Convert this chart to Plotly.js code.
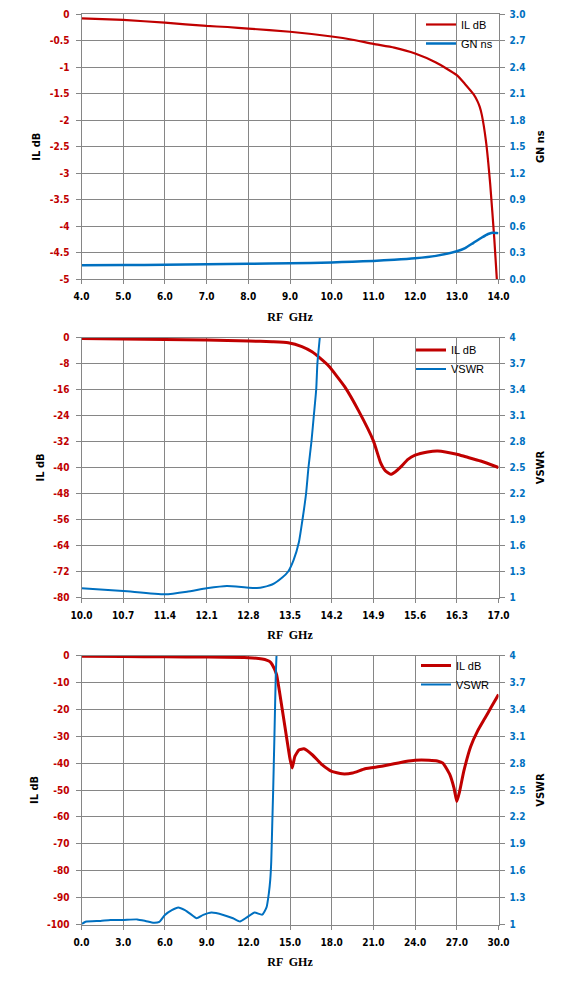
<!DOCTYPE html>
<html>
<head>
<meta charset="utf-8">
<script src="https://cdn.plot.ly/plotly-3.0.1.min.js"></script>
<style>html,body{margin:0;padding:0;background:#fff;}#chart{width:568px;height:986px;}</style>
</head>
<body>
<div id="chart"></div>
<script>
// ---------- Chart 1: IL dB / GN ns vs RF GHz (4-14) ----------
const c1FreqIL = [4.0, 5.0, 6.0, 7.0, 7.5, 8.0, 9.0, 10.0, 10.5, 11.0, 11.5, 12.0, 12.5, 13.0, 13.2, 13.4, 13.5, 13.55, 13.6, 13.7, 13.8, 13.9, 13.96];
const c1IL     = [-0.076, -0.107, -0.158, -0.22, -0.24, -0.27, -0.33, -0.42, -0.48, -0.56, -0.63, -0.74, -0.91, -1.15, -1.32, -1.51, -1.65, -1.75, -1.9, -2.4, -3.2, -4.25, -5.0];
const c1FreqGN = [4.0, 5.0, 6.0, 7.0, 8.0, 9.0, 10.0, 10.5, 11.0, 11.5, 12.0, 12.5, 13.0, 13.2, 13.4, 13.6, 13.75, 13.85, 13.95, 14.0];
const c1GN     = [0.155, 0.158, 0.162, 0.166, 0.172, 0.178, 0.188, 0.195, 0.205, 0.218, 0.235, 0.262, 0.314, 0.35, 0.41, 0.47, 0.51, 0.525, 0.522, 0.52];

// ---------- Chart 2: IL dB / VSWR vs RF GHz (10-17) ----------
const c2FreqIL = [10.0, 10.7, 11.4, 12.1, 12.81, 13.2, 13.47, 13.7, 13.87, 14.0, 14.15, 14.42, 14.65, 14.9, 15.02, 15.1, 15.19, 15.27, 15.36, 15.48, 15.6, 15.81, 15.98, 16.3, 16.45, 16.7, 17.0];
const c2IL     = [-0.3, -0.5, -0.6, -0.8, -1.1, -1.3, -1.6, -2.8, -4.4, -6.3, -8.8, -15.2, -22.5, -31.8, -38.5, -41.0, -42.1, -41.3, -39.8, -37.5, -36.2, -35.2, -34.9, -35.9, -36.7, -38.0, -40.0];
const c2FreqVS = [10.0, 10.7, 11.4, 11.77, 12.1, 12.44, 12.81, 13.0, 13.2, 13.37, 13.47, 13.56, 13.65, 13.71, 13.77, 13.81, 13.86, 13.9, 13.94, 13.96, 14.0, 14.05];
const c2VSWR   = [1.106, 1.075, 1.037, 1.067, 1.106, 1.133, 1.113, 1.112, 1.15, 1.23, 1.30, 1.43, 1.64, 1.90, 2.2, 2.5, 2.8, 3.1, 3.4, 3.7, 4.0, 4.4];

// ---------- Chart 3: IL dB / VSWR vs RF GHz (0-30) ----------
const c3FreqIL = [0, 3, 6, 9, 12, 13.0, 13.36, 13.55, 13.72, 14.03, 14.44, 14.8, 15.0, 15.16, 15.35, 15.64, 16.0, 16.6, 17.3, 18.0, 18.75, 19.5, 20.4, 21.6, 23.3, 24.0, 25.0, 25.6, 26.0, 26.5, 26.8, 27.0, 27.2, 27.5, 28.0, 28.5, 29.0, 29.5, 30.0];
const c3IL     = [-0.3, -0.4, -0.5, -0.6, -0.8, -1.3, -1.8, -2.3, -3.4, -7.0, -20.0, -32.0, -38.5, -41.8, -37.5, -35.1, -34.7, -36.9, -40.6, -43.1, -44.0, -43.7, -42.1, -41.2, -39.4, -38.9, -38.9, -39.2, -40.0, -44.3, -49.3, -54.3, -50.6, -43.1, -33.8, -28.0, -23.5, -19.0, -14.5];
const c3FreqVS = [0.0, 0.29, 1.37, 2.09, 2.93, 4.0, 4.6, 5.2, 5.6, 6.0, 6.5, 6.96, 7.44, 7.9, 8.28, 8.76, 9.35, 10.2, 10.9, 11.4, 11.9, 12.45, 13.0, 13.31, 13.48, 13.58, 13.65, 13.72, 13.79, 13.88, 13.98, 14.03, 14.08];
const c3VSWR   = [1.0, 1.03, 1.04, 1.05, 1.05, 1.057, 1.04, 1.02, 1.03, 1.107, 1.16, 1.19, 1.16, 1.11, 1.07, 1.107, 1.133, 1.107, 1.07, 1.034, 1.08, 1.133, 1.11, 1.19, 1.35, 1.5, 1.7, 2.1, 2.5, 3.1, 3.8, 4.0, 4.3];

// ---------- Tick labels ----------
const x1Ticks = [4,5,6,7,8,9,10,11,12,13,14];
const x1Text  = ['4.0','5.0','6.0','7.0','8.0','9.0','10.0','11.0','12.0','13.0','14.0'];
const y1Ticks = [0,-0.5,-1,-1.5,-2,-2.5,-3,-3.5,-4,-4.5,-5];
const y1Text  = ['0','-0.5','-1','-1.5','-2','-2.5','-3','-3.5','-4','-4.5','-5'];
const y2Ticks = [0,0.3,0.6,0.9,1.2,1.5,1.8,2.1,2.4,2.7,3.0];
const y2Text  = ['0.0','0.3','0.6','0.9','1.2','1.5','1.8','2.1','2.4','2.7','3.0'];
const x2Ticks = [10.0,10.7,11.4,12.1,12.8,13.5,14.2,14.9,15.6,16.3,17.0];
const x2Text  = ['10.0','10.7','11.4','12.1','12.8','13.5','14.2','14.9','15.6','16.3','17.0'];
const y3Ticks = [0,-8,-16,-24,-32,-40,-48,-56,-64,-72,-80];
const y3Text  = ['0','-8','-16','-24','-32','-40','-48','-56','-64','-72','-80'];
const vsTicks = [1,1.3,1.6,1.9,2.2,2.5,2.8,3.1,3.4,3.7,4];
const vsText  = ['1','1.3','1.6','1.9','2.2','2.5','2.8','3.1','3.4','3.7','4'];
const x3Ticks = [0,3,6,9,12,15,18,21,24,27,30];
const x3Text  = ['0.0','3.0','6.0','9.0','12.0','15.0','18.0','21.0','24.0','27.0','30.0'];
const y5Ticks = [0,-10,-20,-30,-40,-50,-60,-70,-80,-90,-100];
const y5Text  = ['0','-10','-20','-30','-40','-50','-60','-70','-80','-90','-100'];

const RED = '#C00000', BLUE = '#0070C0', GRID = '#868686';
const TICKFONT = 'DejaVu Sans Condensed, DejaVu Sans, sans-serif';
const W = 568, H = 986;
const xd = [81.5/W, 498.5/W];
function yd(top, bottom){ return [1 - bottom/H, 1 - top/H]; }

function xAxis(ticks, text, range, anchor){
  return {domain: xd, anchor: anchor, range: range, tickmode:'array', tickvals: ticks, ticktext: text,
    showgrid: true, gridcolor: GRID, gridwidth: 1, showline: true, linecolor: GRID, linewidth: 1, mirror: true,
    ticks: 'outside', ticklen: 4, tickcolor: GRID, zeroline: false, ticklabelstandoff: 4,
    tickfont: {family: TICKFONT, size: 10, color: '#000', weight: 'bold'},
    title: {text: 'RF  GHz', font: {family: 'Liberation Serif, serif', size: 12, color: '#000', weight: 'bold'}, standoff: 11}};
}
function yLeft(ticks, text, range, dom, anchor, title){
  return {domain: dom, anchor: anchor, range: range, tickmode:'array', tickvals: ticks, ticktext: text,
    showgrid: true, gridcolor: GRID, gridwidth: 1, showline: true, linecolor: GRID, linewidth: 1, mirror: true,
    ticks: 'outside', ticklen: 5, tickcolor: GRID, zeroline: false, ticklabelstandoff: 4,
    tickfont: {family: TICKFONT, size: 10, color: RED, weight: 'bold'},
    title: {text: title, font: {family: TICKFONT, size: 11, color: '#000', weight: 'bold'}, standoff: 6}};
}
function yRight(ticks, text, range, over, anchor, title){
  return {overlaying: over, side: 'right', anchor: anchor, range: range, tickmode:'array', tickvals: ticks, ticktext: text,
    showgrid: false, showline: true, linecolor: GRID, linewidth: 1,
    ticks: 'outside', ticklen: 5, tickcolor: GRID, zeroline: false, ticklabelstandoff: 3,
    tickfont: {family: TICKFONT, size: 10, color: BLUE, weight: 'bold'},
    title: {text: title, font: {family: TICKFONT, size: 11, color: '#000', weight: 'bold'}, standoff: 11}};
}

const traces = [
  {x: c1FreqIL, y: c1IL, name: 'IL dB', xaxis: 'x', yaxis: 'y', mode: 'lines', line: {color: RED, width: 2.2, shape: 'spline', smoothing: 0.5}, legend: 'legend'},
  {x: c1FreqGN, y: c1GN, name: 'GN ns', xaxis: 'x', yaxis: 'y2', mode: 'lines', line: {color: BLUE, width: 2.5, shape: 'spline', smoothing: 0.5}, legend: 'legend'},
  {x: c2FreqIL, y: c2IL, name: 'IL dB', xaxis: 'x2', yaxis: 'y3', mode: 'lines', line: {color: RED, width: 3, shape: 'spline', smoothing: 0.5}, legend: 'legend2'},
  {x: c2FreqVS, y: c2VSWR, name: 'VSWR', xaxis: 'x2', yaxis: 'y4', mode: 'lines', line: {color: BLUE, width: 2, shape: 'spline', smoothing: 0.5}, legend: 'legend2'},
  {x: c3FreqIL, y: c3IL, name: 'IL dB', xaxis: 'x3', yaxis: 'y5', mode: 'lines', line: {color: RED, width: 3, shape: 'spline', smoothing: 0.4}, legend: 'legend3'},
  {x: c3FreqVS, y: c3VSWR, name: 'VSWR', xaxis: 'x3', yaxis: 'y6', mode: 'lines', line: {color: BLUE, width: 2, shape: 'spline', smoothing: 0.5}, legend: 'legend3'}
];

const legFont = {family: 'Liberation Sans, Arial, sans-serif', size: 11, color: '#000'};
function leg(xpx, ypx){
  return {x: xpx/W, y: 1 - ypx/H, xanchor: 'left', yanchor: 'top', bgcolor: 'rgba(0,0,0,0)', borderwidth: 0, font: legFont, itemwidth: 30, tracegroupgap: 0};
}
function box(x0, x1, y0, y1){
  return {type: 'rect', xref: 'paper', yref: 'paper', x0: x0/W, x1: x1/W, y0: 1 - y1/H, y1: 1 - y0/H,
    fillcolor: '#fff', line: {width: 0}, layer: 'between'};
}

const layout = {
  width: W, height: H, margin: {l: 0, r: 0, t: 0, b: 0},
  paper_bgcolor: '#fff', plot_bgcolor: '#fff', showlegend: true,
  xaxis:  xAxis(x1Ticks, x1Text, [4, 14], 'y'),
  yaxis:  yLeft(y1Ticks, y1Text, [-5, 0], yd(14.3, 279), 'x', 'IL dB'),
  yaxis2: yRight(y2Ticks, y2Text, [0, 3], 'y', 'x', 'GN ns'),
  xaxis2: xAxis(x2Ticks, x2Text, [10, 17], 'y3'),
  yaxis3: yLeft(y3Ticks, y3Text, [-80, 0], yd(337.5, 597.5), 'x2', 'IL dB'),
  yaxis4: yRight(vsTicks, vsText, [1, 4], 'y3', 'x2', 'VSWR'),
  xaxis3: xAxis(x3Ticks, x3Text, [0, 30], 'y5'),
  yaxis5: yLeft(y5Ticks, y5Text, [-100, 0], yd(655.5, 924.5), 'x3', 'IL dB'),
  yaxis6: yRight(vsTicks, vsText, [1, 4], 'y5', 'x3', 'VSWR'),
  legend:  leg(421, 10),
  legend2: leg(411, 335.5),
  legend3: leg(416, 651),
  shapes: [box(421, 494, 14.8, 50), box(411.7, 490, 338, 378.3), box(415, 492, 656, 691.7)]
};

Plotly.newPlot('chart', traces, layout, {displayModeBar: false, staticPlot: true});
</script>
</body>
</html>
